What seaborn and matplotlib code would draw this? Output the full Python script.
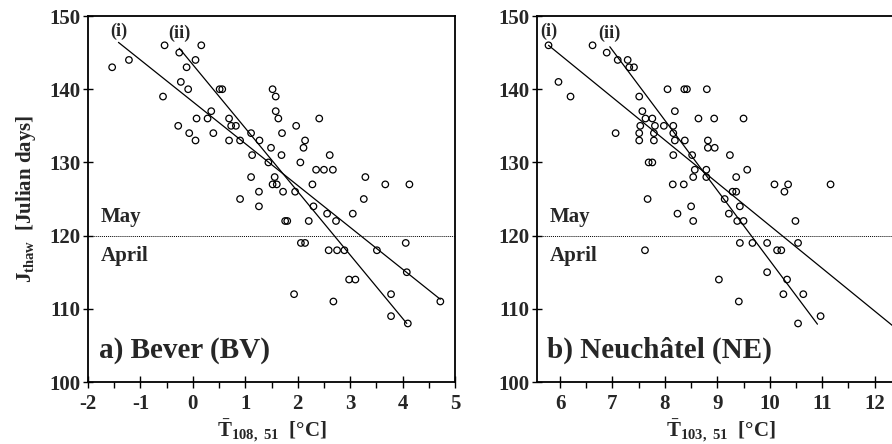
import matplotlib

matplotlib.use("Agg")
import matplotlib.pyplot as plt
import pandas as pd
import seaborn as sns
from matplotlib.ticker import MultipleLocator

# a) Bever (BV): mean temperature vs. thaw date
bever_temp = [
    -1.54, -1.22, -0.54, 0.16, -0.26, 0.05, -0.12, -0.23, -0.09, -0.57,
    0.51, 0.56, 1.52, 1.58, 1.58, 1.63, 0.35, 0.28, 0.07, 0.69,
    0.73, 0.82, -0.28, -0.07, 0.05, 0.39, 0.69, 0.90, 1.11, 1.27,
    1.49, 1.13, 1.44, 1.11, 1.56, 1.52, 1.60, 1.26, 0.90, 2.41,
    1.97, 1.70, 2.14, 2.11, 1.69, 2.61, 2.05, 2.35, 2.50, 2.67,
    3.29, 2.28, 3.67, 4.13, 1.72, 1.95, 3.26, 2.30, 2.56, 3.05,
    2.73, 1.76, 1.80, 2.21, 2.06, 2.14, 2.59, 2.75, 2.89, 3.51,
    4.06, 4.08, 2.98, 3.10, 1.93, 2.68, 3.78, 3.78, 4.10, 4.72,
    1.26,
]
bever_jthaw = [
    143, 144, 146, 146, 145, 144, 143, 141, 140, 139,
    140, 140, 140, 139, 137, 136, 137, 136, 136, 136,
    135, 135, 135, 134, 133, 134, 133, 133, 134, 133,
    132, 131, 130, 128, 128, 127, 127, 126, 125, 136,
    135, 134, 133, 132, 131, 131, 130, 129, 129, 129,
    128, 127, 127, 127, 126, 126, 125, 124, 123, 123,
    122, 122, 122, 122, 119, 119, 118, 118, 118, 118,
    119, 115, 114, 114, 112, 111, 112, 109, 108, 111,
    124,
]

# b) Neuchatel (NE)
neuch_temp = [
    5.78, 6.62, 6.89, 7.10, 7.29, 7.32, 7.41, 5.97, 6.20, 7.51,
    8.05, 8.37, 8.42, 8.80, 8.19, 8.64, 8.94, 7.57, 7.63, 7.76,
    7.53, 7.81, 7.98, 8.16, 7.51, 7.51, 7.79, 7.79, 7.06, 8.16,
    8.19, 8.38, 8.82, 8.82, 8.95, 8.16, 8.52, 7.69, 7.76, 8.57,
    8.79, 8.54, 8.79, 8.15, 8.36, 7.67, 9.50, 9.24, 9.36, 9.57,
    10.09, 10.35, 10.28, 11.16, 9.29, 9.36, 9.14, 9.43, 9.22, 9.38,
    9.50, 10.49, 9.43, 9.67, 9.95, 10.54, 10.14, 10.22, 9.95, 10.33,
    9.03, 10.26, 10.64, 9.41, 10.97, 10.54, 8.24, 8.50, 8.54, 7.62,
]
neuch_jthaw = [
    146, 146, 145, 144, 144, 143, 143, 141, 139, 139,
    140, 140, 140, 140, 137, 136, 136, 137, 136, 136,
    135, 135, 135, 135, 134, 133, 134, 133, 134, 134,
    133, 133, 133, 132, 132, 131, 131, 130, 130, 129,
    129, 128, 128, 127, 127, 125, 136, 131, 128, 129,
    127, 127, 126, 127, 126, 126, 125, 124, 123, 122,
    122, 122, 119, 119, 119, 119, 118, 118, 115, 114,
    114, 112, 112, 111, 109, 108, 123, 124, 122, 118,
]

# regression lines (i) and (ii): end points
bever_fit_i = ([-1.42, 4.72], [146.4, 111.3])
bever_fit_ii = ([-0.26, 4.08], [145.6, 108.0])
neuch_fit_i = ([5.78, 12.6], [146.0, 106.2])
neuch_fit_ii = ([6.95, 10.91], [145.8, 107.9])

sns.set_theme(style="ticks")
plt.rcParams["font.family"] = ["Liberation Serif", "DejaVu Serif"]
plt.rcParams["font.weight"] = "bold"
plt.rcParams["axes.unicode_minus"] = False
plt.rcParams["mathtext.fontset"] = "custom"
plt.rcParams["mathtext.rm"] = "Liberation Serif:bold"
plt.rcParams["mathtext.bf"] = "Liberation Serif:bold"
plt.rcParams["mathtext.it"] = "Liberation Serif:bold"

fig = plt.figure(figsize=(8.92, 4.44), dpi=100)
ax_a = fig.add_axes([0.0987, 0.1396, 0.4114, 0.8243])
ax_b = fig.add_axes([0.602, 0.1396, 0.4114, 0.8243])

panels = [
    (ax_a, bever_temp, bever_jthaw, bever_fit_i, bever_fit_ii, (-2, 5),
     "a) Bever (BV)", r"$\mathbf{\bar{T}_{108,\ 51}}$  [°C]"),
    (ax_b, neuch_temp, neuch_jthaw, neuch_fit_i, neuch_fit_ii, (5.56, 12.56),
     "b) Neuchâtel (NE)", r"$\mathbf{\bar{T}_{103,\ 51}}$  [°C]"),
]

for ax, temp, jthaw, fit_i, fit_ii, xlim, title, xlabel in panels:
    df = pd.DataFrame({"temp": temp, "jthaw": jthaw})
    for fx, fy in (fit_i, fit_ii):
        sns.lineplot(x=fx, y=fy, ax=ax, color="black", linewidth=0.9, zorder=2)
    sns.scatterplot(data=df, x="temp", y="jthaw", ax=ax, marker="o", s=22,
                    facecolor="none", edgecolor="black", linewidth=0.9, zorder=3)
    ax.axhline(120, color="black", linestyle=(0, (1, 1)), linewidth=0.7, zorder=1)

    ax.set_xlim(*xlim)
    ax.set_ylim(100, 150)
    ax.xaxis.set_major_locator(MultipleLocator(1))
    ax.xaxis.set_minor_locator(MultipleLocator(0.5))
    ax.yaxis.set_major_locator(MultipleLocator(10))
    ax.tick_params(axis="x", which="major", direction="inout", length=9, width=1,
                   labelsize=15, pad=4, color="black")
    ax.tick_params(axis="x", which="minor", direction="out", length=4, width=1, color="black")
    ax.tick_params(axis="y", which="major", direction="inout", length=7, width=1,
                   labelsize=15, pad=2, color="black")
    for lab in ax.get_xticklabels() + ax.get_yticklabels():
        lab.set_fontweight("bold")
    for sp in ax.spines.values():
        sp.set_visible(True)
        sp.set_linewidth(1.3)
        sp.set_color("black")

    x0 = xlim[0]
    ax.text(x0 + 0.24, 121.8, "May", fontsize=15, fontweight="bold", ha="left", va="baseline")
    ax.text(x0 + 0.24, 116.5, "April", fontsize=15, fontweight="bold", ha="left", va="baseline")
    ax.text(x0 + 0.2, 103.3, title, fontsize=21, fontweight="bold", ha="left", va="baseline")
    ax.text(fit_i[0][0], 147.9, "(i)", fontsize=13, fontweight="bold", ha="center", va="center")
    ax.text(fit_ii[0][0], 147.6, "(ii)", fontsize=13, fontweight="bold", ha="center", va="center")

    ax.set_xlabel(xlabel, fontsize=15, fontweight="bold")
    ax.xaxis.set_label_coords(0.5, -0.095)
    ax.set_ylabel("")

ax_a.set_ylabel(r"$\mathbf{J_{thaw}}$  [Julian days]", fontsize=15, fontweight="bold")
ax_a.yaxis.set_label_coords(-0.135, 0.5)

fig.savefig("out.png", dpi=100)
